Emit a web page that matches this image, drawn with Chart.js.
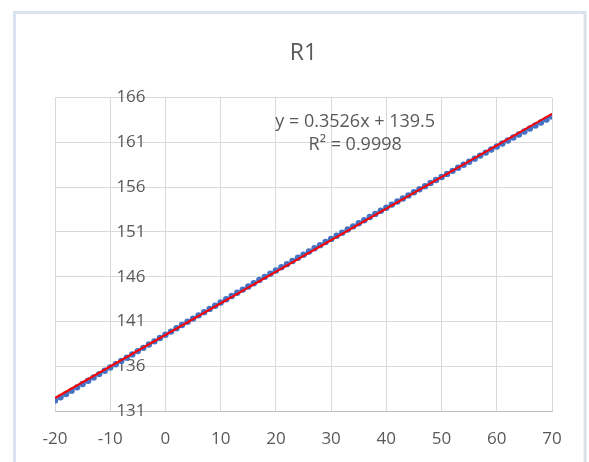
<!DOCTYPE html>
<html>
<head>
<meta charset="utf-8">
<title>R1</title>
<script src="https://cdn.jsdelivr.net/npm/chart.js@4.4.1/dist/chart.umd.min.js"></script>
<style>
  html, body { margin: 0; padding: 0; background: #fff; }
  canvas { display: block; }
</style>
</head>
<body>
<canvas id="r1Chart" width="589" height="462"></canvas>
<script>
// measured points (x = -20 .. 70, step 1)
const xValues = [];
for (let x = -20; x <= 70; x++) xValues.push(x);

const yValues = [
  132.16, 132.53, 132.90, 133.27, 133.64, 134.01, 134.38, 134.75, 135.12, 135.49,
  135.85, 136.22, 136.59, 136.96, 137.32, 137.69, 138.05, 138.42, 138.78, 139.15,
  139.51, 139.87, 140.24, 140.60, 140.96, 141.32, 141.68, 142.04, 142.40, 142.76,
  143.12, 143.48, 143.84, 144.20, 144.56, 144.91, 145.27, 145.63, 145.98, 146.34,
  146.69, 147.05, 147.40, 147.76, 148.11, 148.46, 148.81, 149.17, 149.52, 149.87,
  150.22, 150.57, 150.92, 151.27, 151.62, 151.97, 152.31, 152.66, 153.01, 153.36,
  153.70, 154.05, 154.39, 154.74, 155.08, 155.43, 155.77, 156.11, 156.46, 156.80,
  157.14, 157.48, 157.82, 158.16, 158.50, 158.84, 159.18, 159.52, 159.86, 160.20,
  160.54, 160.87, 161.21, 161.55, 161.88, 162.22, 162.55, 162.89, 163.22, 163.56,
  163.89
];

// linear trendline endpoints
const trendX = [-20, 70];
const trendY = [132.45, 164.18];

const equationLines = ['y = 0.3526x + 139.5', 'R² = 0.9998'];

const xTicks = { min: -20, max: 70, step: 10 };
const yTicks = { min: 131, max: 166, step: 5 };

const textGrey = '#595959';
const gridGrey = '#d9d9d9';

document.addEventListener('DOMContentLoaded', () => {

    const framePlugin = {
        id: 'frame',
        beforeDraw(chart) {
            const ctx = chart.ctx;
            ctx.save();
            ctx.fillStyle = '#ffffff';
            ctx.fillRect(0, 0, chart.width, chart.height);
            ctx.strokeStyle = '#dae3f0';
            ctx.lineWidth = 3;
            ctx.strokeRect(14.5, 12.5, 585 - 14.5, 470);
            ctx.strokeStyle = '#d9d9d9';
            ctx.lineWidth = 1;
            ctx.beginPath();
            ctx.moveTo(585.5, 14);
            ctx.lineTo(585.5, 462);
            ctx.stroke();
            ctx.restore();
        }
    };

    const equationPlugin = {
        id: 'equation',
        afterDatasetsDraw(chart) {
            const ctx = chart.ctx;
            const area = chart.chartArea;
            ctx.save();
            ctx.fillStyle = textGrey;
            ctx.font = '18px "Open Sans"';
            ctx.textAlign = 'center';
            ctx.textBaseline = 'middle';
            const cx = area.left + (area.right - area.left) * 0.604;
            ctx.fillText(equationLines[0], cx, area.top + 24);
            ctx.fillText(equationLines[1], cx, area.top + 47);
            ctx.restore();
        }
    };

    const ctx = document.getElementById('r1Chart').getContext('2d');
    new Chart(ctx, {
        type: 'scatter',
        data: {
            datasets: [
                {
                    label: 'Linear (R1)',
                    type: 'line',
                    data: trendX.map((x, i) => ({ x: x, y: trendY[i] })),
                    borderColor: '#ff0000',
                    borderWidth: 2,
                    pointRadius: 0,
                    fill: false,
                    order: 0
                },
                {
                    label: 'R1',
                    data: xValues.map((x, i) => ({ x: x, y: yValues[i] })),
                    backgroundColor: '#4472c4',
                    borderColor: '#4472c4',
                    pointRadius: 3.2,
                    borderWidth: 0,
                    order: 1
                }
            ]
        },
        options: {
            responsive: false,
            animation: false,
            layout: { padding: { left: 55, right: 37, top: 0, bottom: 0 } },
            scales: {
                x: {
                    type: 'linear',
                    min: xTicks.min,
                    max: xTicks.max,
                    grid: { color: gridGrey, drawTicks: false },
                    border: { color: '#bfbfbf' },
                    ticks: {
                        stepSize: xTicks.step,
                        color: textGrey,
                        padding: 18,
                        font: { family: '"Open Sans"', size: 17 }
                    },
                    afterFit(scale) { scale.height = 51; }
                },
                y: {
                    type: 'linear',
                    // labels sit left of the x = 0 axis line
                    position: { x: -3.6 },
                    min: yTicks.min,
                    max: yTicks.max,
                    grid: { color: gridGrey, drawTicks: false },
                    border: { display: false },
                    ticks: {
                        stepSize: yTicks.step,
                        color: textGrey,
                        font: { family: '"Open Sans"', size: 17 }
                    }
                }
            },
            plugins: {
                legend: { display: false },
                tooltip: { enabled: false },
                title: {
                    display: true,
                    text: 'R1',
                    color: textGrey,
                    font: { family: '"Open Sans"', size: 23, weight: 'normal' },
                    padding: { top: 40, bottom: 30 }
                }
            }
        },
        plugins: [framePlugin, equationPlugin]
    });
});
</script>
</body>
</html>
